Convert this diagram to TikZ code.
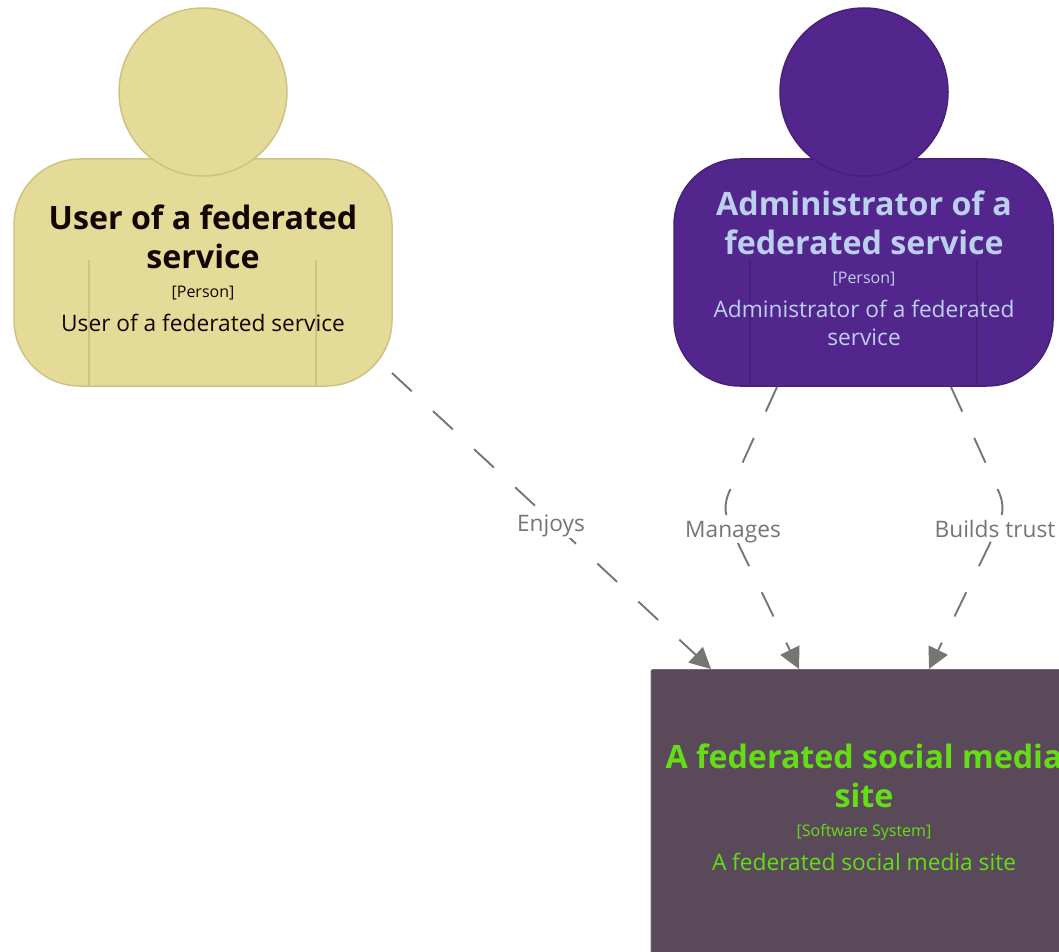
\documentclass[tikz,border=0pt]{standalone}
\usepackage{fontspec}
\setmainfont{Open Sans}
\usetikzlibrary{arrows.meta}
\definecolor{userfill}{HTML}{E4DB99}
\definecolor{userline}{HTML}{CDC484}
\definecolor{userink}{HTML}{120600}
\definecolor{adminfill}{HTML}{53268E}
\definecolor{adminline}{HTML}{47207A}
\definecolor{adminink}{HTML}{BBD0EE}
\definecolor{sysfill}{HTML}{5A4A59}
\definecolor{sysink}{HTML}{64DD17}
\definecolor{edge}{HTML}{757575}
\tikzset{
  title/.style={align=center,font=\fontsize{32.2}{38.5}\selectfont\bfseries,inner sep=0pt},
  kind/.style={font=\fontsize{16}{18}\selectfont,inner sep=0pt},
  descr/.style={align=center,font=\fontsize{22.7}{28}\selectfont,inner sep=0pt},
  flow/.style={draw=edge,line width=1.9pt,dash pattern=on 27pt off 29pt,-{Triangle[length=21pt,width=21pt]}},
  lab/.style={text=edge,font=\fontsize{22.7}{28}\selectfont,fill=white,inner sep=2pt,anchor=base},
  body/.style={rounded corners=66pt,line width=1.5pt,minimum width=378pt,minimum height=227pt,inner sep=0pt},
  head/.style={circle,line width=1.5pt,minimum size=168pt,inner sep=0pt},
  seam/.style={line width=1.2pt},
}
\begin{document}
\begin{tikzpicture}[x=1pt,y=-1pt]
\useasboundingbox (0,0) rectangle (1059,952);
\clip (0,0) rectangle (1059,952);
% system
\node[fill=sysfill,draw=sysfill!85!white,line width=1pt,rounded corners=1.5pt,minimum width=430pt,minimum height=300pt,inner sep=0pt,anchor=north west] (sys) at (650.5,669) {};
% user
\node[body,fill=userfill,draw=userline] (ubody) at (203,272.5) {};
\node[head,fill=userfill,draw=userline] (uhead) at (203,92) {};
\coordinate (ua) at (89,260); \coordinate (ub) at (89,386);
\coordinate (uc) at (316,260); \coordinate (ud) at (316,386);
\draw[seam,draw=userline] (ua) -- (ub) (uc) -- (ud);
% admin
\node[body,fill=adminfill,draw=adminline,minimum width=379pt] (abody) at (863.5,272.5) {};
\node[head,fill=adminfill,draw=adminline] (ahead) at (864,92) {};
\coordinate (aa) at (750,260); \coordinate (ab) at (750,386);
\coordinate (ac) at (977,260); \coordinate (ad) at (977,386);
\draw[seam,draw=adminline] (aa) -- (ab) (ac) -- (ad);
% texts
\node[title,text=userink] (ut) at (203,236.7) {User of a federated\\service};
\node[kind,text=userink] (uk) at (203,293.5) {[Person]};
\node[descr,text=userink] (ud1) at (203,323) {User of a federated service};
\node[title,text=adminink] (at) at (864,222.7) {Administrator of a\\federated service};
\node[kind,text=adminink] (ak) at (864,279) {[Person]};
\node[descr,text=adminink] (ad1) at (864,322.5) {Administrator of a federated\\service};
\node[title,text=sysink] (st) at (864,775.7) {A federated social media\\site};
\node[kind,text=sysink] (sk) at (864,832) {[Software System]};
\node[descr,text=sysink] (sd) at (864,861.5) {A federated social media site};
% connectors
\coordinate (e1s) at (392,373); \coordinate (e1t) at (711,669);
\coordinate (e2s) at (777,387); \coordinate (e2t) at (799,669);
\coordinate (e3s) at (951,387); \coordinate (e3t) at (929,669);
\draw[flow] (e1s) -- (e1t);
\draw[flow] (e2s) -- (731,488) .. controls (722,506) and (725,516) .. (733,533) -- (e2t);
\draw[flow] (e3s) -- (997,488) .. controls (1006,506) and (1003,516) .. (995,533) -- (e3t);
\node[lab] (l1) at (551,531) {Enjoys};
\node[lab,inner sep=1pt] (l2) at (733,537) {Manages};
\node[lab,inner sep=1pt] (l3) at (995,537) {Builds trust};
\end{tikzpicture}
\end{document}
